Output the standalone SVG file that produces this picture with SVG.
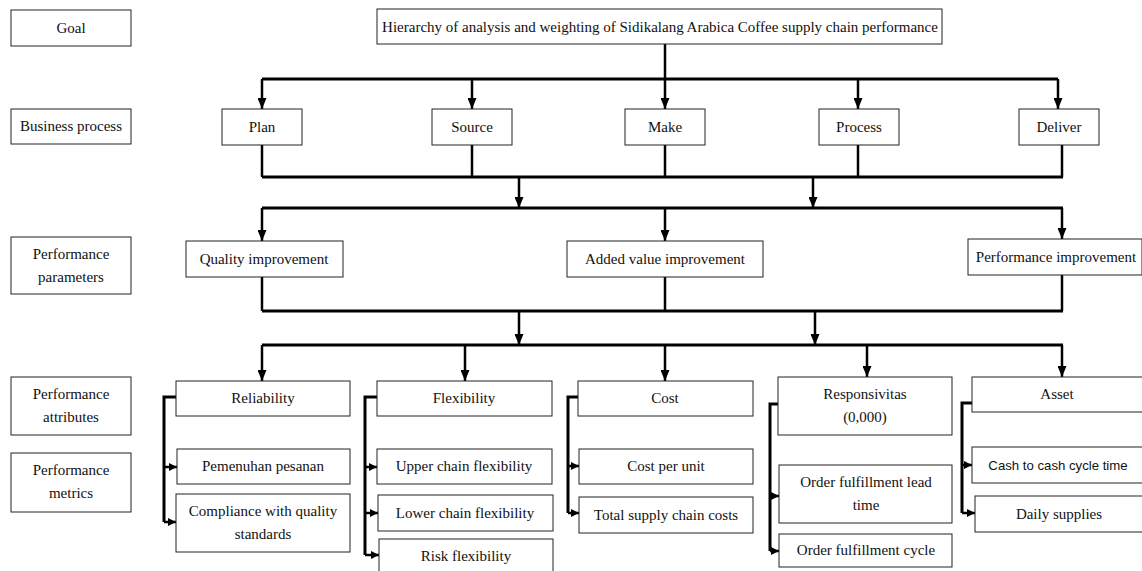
<svg xmlns="http://www.w3.org/2000/svg" width="1142" height="571" viewBox="0 0 1142 571">
  <style>
    .box { fill: #fff; stroke: #222; stroke-width: 1; }
    .lbl { font-family: "Liberation Serif", "Times New Roman", serif; font-size: 15px; fill: #111; text-anchor: middle; }
    .sans { font-family: "Liberation Sans", Arial, sans-serif; font-size: 13.2px; }
    .bus { fill: none; stroke: #000; stroke-width: 3; }
    .drop { fill: none; stroke: #000; stroke-width: 2.5; }
    .arr { fill: none; stroke: #000; stroke-width: 2.5; marker-end: url(#down); }
    .br { fill: none; stroke: #000; stroke-width: 3; }
    .tip { fill: none; stroke: #000; stroke-width: 2.5; marker-end: url(#side); }
  </style>
  <defs>
    <marker id="down" viewBox="0 0 10 10" refX="10" refY="5" markerWidth="11" markerHeight="9" markerUnits="userSpaceOnUse" orient="auto" preserveAspectRatio="none">
      <path d="M0,0 L10,5 L0,10 z" fill="#000"/>
    </marker>
    <marker id="side" viewBox="0 0 10 10" refX="10" refY="5" markerWidth="8" markerHeight="8" markerUnits="userSpaceOnUse" orient="auto" preserveAspectRatio="none">
      <path d="M0,0 L10,5 L0,10 z" fill="#000"/>
    </marker>
  </defs>
  <rect width="1142" height="571" fill="#fff"/>

  <!-- level labels -->
  <g id="lvl-goal"><rect class="box" x="11" y="10" width="120" height="36"/><text class="lbl" x="71" y="33">Goal</text></g>
  <g id="lvl-business"><rect class="box" x="11" y="109" width="120" height="35"/><text class="lbl" x="71" y="131">Business process</text></g>
  <g id="lvl-parameters"><rect class="box" x="11" y="237" width="120" height="57"/><text class="lbl" x="71" y="259">Performance</text><text class="lbl" x="71" y="282">parameters</text></g>
  <g id="lvl-attributes"><rect class="box" x="11" y="377" width="120" height="58"/><text class="lbl" x="71" y="399">Performance</text><text class="lbl" x="71" y="422">attributes</text></g>
  <g id="lvl-metrics"><rect class="box" x="11" y="453" width="120" height="59"/><text class="lbl" x="71" y="475">Performance</text><text class="lbl" x="71" y="498">metrics</text></g>

  <!-- connectors -->
  <g id="connectors">
    <!-- goal to business processes -->
    <path class="drop" d="M665,44 V79"/>
    <path class="bus" d="M262,79 H1058"/>
    <path class="arr" d="M262,79 V109"/>
    <path class="arr" d="M472,79 V109"/>
    <path class="arr" d="M665,79 V109"/>
    <path class="arr" d="M858,79 V109"/>
    <path class="arr" d="M1058,79 V109"/>
    <!-- business processes to parameters -->
    <path class="drop" d="M262,145 V177"/>
    <path class="drop" d="M472,145 V177"/>
    <path class="drop" d="M665,145 V177"/>
    <path class="drop" d="M858,145 V177"/>
    <path class="drop" d="M1062,145 V177"/>
    <path class="bus" d="M262,177 H1063"/>
    <path class="arr" d="M519,177 V208"/>
    <path class="arr" d="M813,177 V208"/>
    <path class="bus" d="M262,208 H1063"/>
    <path class="arr" d="M262,208 V241"/>
    <path class="arr" d="M665,208 V241"/>
    <path class="arr" d="M1062,208 V239"/>
    <!-- parameters to attributes -->
    <path class="drop" d="M262,277 V311"/>
    <path class="drop" d="M665,277 V311"/>
    <path class="drop" d="M1062,275 V311"/>
    <path class="bus" d="M262,311 H1063"/>
    <path class="arr" d="M519,311 V345"/>
    <path class="arr" d="M815,311 V345"/>
    <path class="bus" d="M262,345 H1063"/>
    <path class="arr" d="M262,345 V381"/>
    <path class="arr" d="M465,345 V381"/>
    <path class="arr" d="M665,345 V381"/>
    <path class="arr" d="M867,345 V377"/>
    <path class="arr" d="M1062,345 V377"/>
    <!-- attribute branches to metrics -->
    <path class="br" d="M176,397 H164 V522"/>
    <path class="tip" d="M164,467 H177"/>
    <path class="tip" d="M164,522 H176"/>
    <path class="br" d="M377,397 H365 V555"/>
    <path class="tip" d="M365,467 H377"/>
    <path class="tip" d="M365,513 H378"/>
    <path class="tip" d="M365,555 H379"/>
    <path class="br" d="M578,397 H568 V513"/>
    <path class="tip" d="M568,466 H579"/>
    <path class="tip" d="M568,513 H579"/>
    <path class="br" d="M778,404 H770 V551"/>
    <path class="tip" d="M770,496 H779"/>
    <path class="tip" d="M770,551 H779"/>
    <path class="br" d="M972,403 H962 V513"/>
    <path class="tip" d="M962,465 H972"/>
    <path class="tip" d="M962,513 H975"/>
  </g>

  <!-- goal -->
  <g id="goal"><rect class="box" x="377" y="9" width="565" height="35"/><text class="lbl" x="660" y="32">Hierarchy of analysis and weighting of Sidikalang Arabica Coffee supply chain performance</text></g>

  <!-- business processes -->
  <g id="plan"><rect class="box" x="222" y="109" width="80" height="36"/><text class="lbl" x="262" y="132">Plan</text></g>
  <g id="source"><rect class="box" x="432" y="109" width="80" height="36"/><text class="lbl" x="472" y="132">Source</text></g>
  <g id="make"><rect class="box" x="625" y="109" width="80" height="36"/><text class="lbl" x="665" y="132">Make</text></g>
  <g id="process"><rect class="box" x="819" y="109" width="80" height="36"/><text class="lbl" x="859" y="132">Process</text></g>
  <g id="deliver"><rect class="box" x="1019" y="109" width="80" height="36"/><text class="lbl" x="1059" y="132">Deliver</text></g>

  <!-- performance parameters -->
  <g id="quality"><rect class="box" x="186" y="241" width="157" height="36"/><text class="lbl" x="264" y="264">Quality improvement</text></g>
  <g id="added-value"><rect class="box" x="567" y="241" width="196" height="36"/><text class="lbl" x="665" y="264">Added value improvement</text></g>
  <g id="performance"><rect class="box" x="968" y="239" width="174" height="36"/><text class="lbl" x="1056" y="262">Performance improvement</text></g>

  <!-- performance attributes -->
  <g id="reliability"><rect class="box" x="176" y="381" width="174" height="35"/><text class="lbl" x="263" y="403">Reliability</text></g>
  <g id="flexibility"><rect class="box" x="377" y="381" width="175" height="35"/><text class="lbl" x="464" y="403">Flexibility</text></g>
  <g id="cost"><rect class="box" x="578" y="381" width="175" height="35"/><text class="lbl" x="665" y="403">Cost</text></g>
  <g id="responsivitas"><rect class="box" x="778" y="377" width="174" height="58"/><text class="lbl" x="865" y="399">Responsivitas</text><text class="lbl" x="865" y="422">(0,000)</text></g>
  <g id="asset"><rect class="box" x="972" y="377" width="172" height="35"/><text class="lbl" x="1057" y="399">Asset</text></g>

  <!-- performance metrics -->
  <g id="pemenuhan"><rect class="box" x="177" y="449" width="173" height="35"/><text class="lbl" x="263" y="471">Pemenuhan pesanan</text></g>
  <g id="compliance"><rect class="box" x="176" y="494" width="174" height="58"/><text class="lbl" x="263" y="516">Compliance with quality</text><text class="lbl" x="263" y="539">standards</text></g>
  <g id="upper-chain"><rect class="box" x="377" y="449" width="175" height="35"/><text class="lbl" x="464" y="471">Upper chain flexibility</text></g>
  <g id="lower-chain"><rect class="box" x="378" y="495" width="175" height="36"/><text class="lbl" x="465" y="518">Lower chain flexibility</text></g>
  <g id="risk"><rect class="box" x="379" y="539" width="174" height="40"/><text class="lbl" x="466" y="561">Risk flexibility</text></g>
  <g id="cost-unit"><rect class="box" x="579" y="449" width="174" height="35"/><text class="lbl" x="666" y="471">Cost per unit</text></g>
  <g id="total-costs"><rect class="box" x="579" y="497" width="174" height="36"/><text class="lbl" x="666" y="520">Total supply chain costs</text></g>
  <g id="lead-time"><rect class="box" x="779" y="465" width="173" height="58"/><text class="lbl" x="866" y="487">Order fulfillment lead</text><text class="lbl" x="866" y="510">time</text></g>
  <g id="cycle"><rect class="box" x="779" y="534" width="173" height="33"/><text class="lbl" x="866" y="555">Order fulfillment cycle</text></g>
  <g id="cash-cycle"><rect class="box" x="972" y="447" width="172" height="36"/><text class="lbl sans" x="1058" y="470">Cash to cash cycle time</text></g>
  <g id="daily"><rect class="box" x="975" y="496" width="169" height="36"/><text class="lbl" x="1059" y="519">Daily supplies</text></g>
</svg>
